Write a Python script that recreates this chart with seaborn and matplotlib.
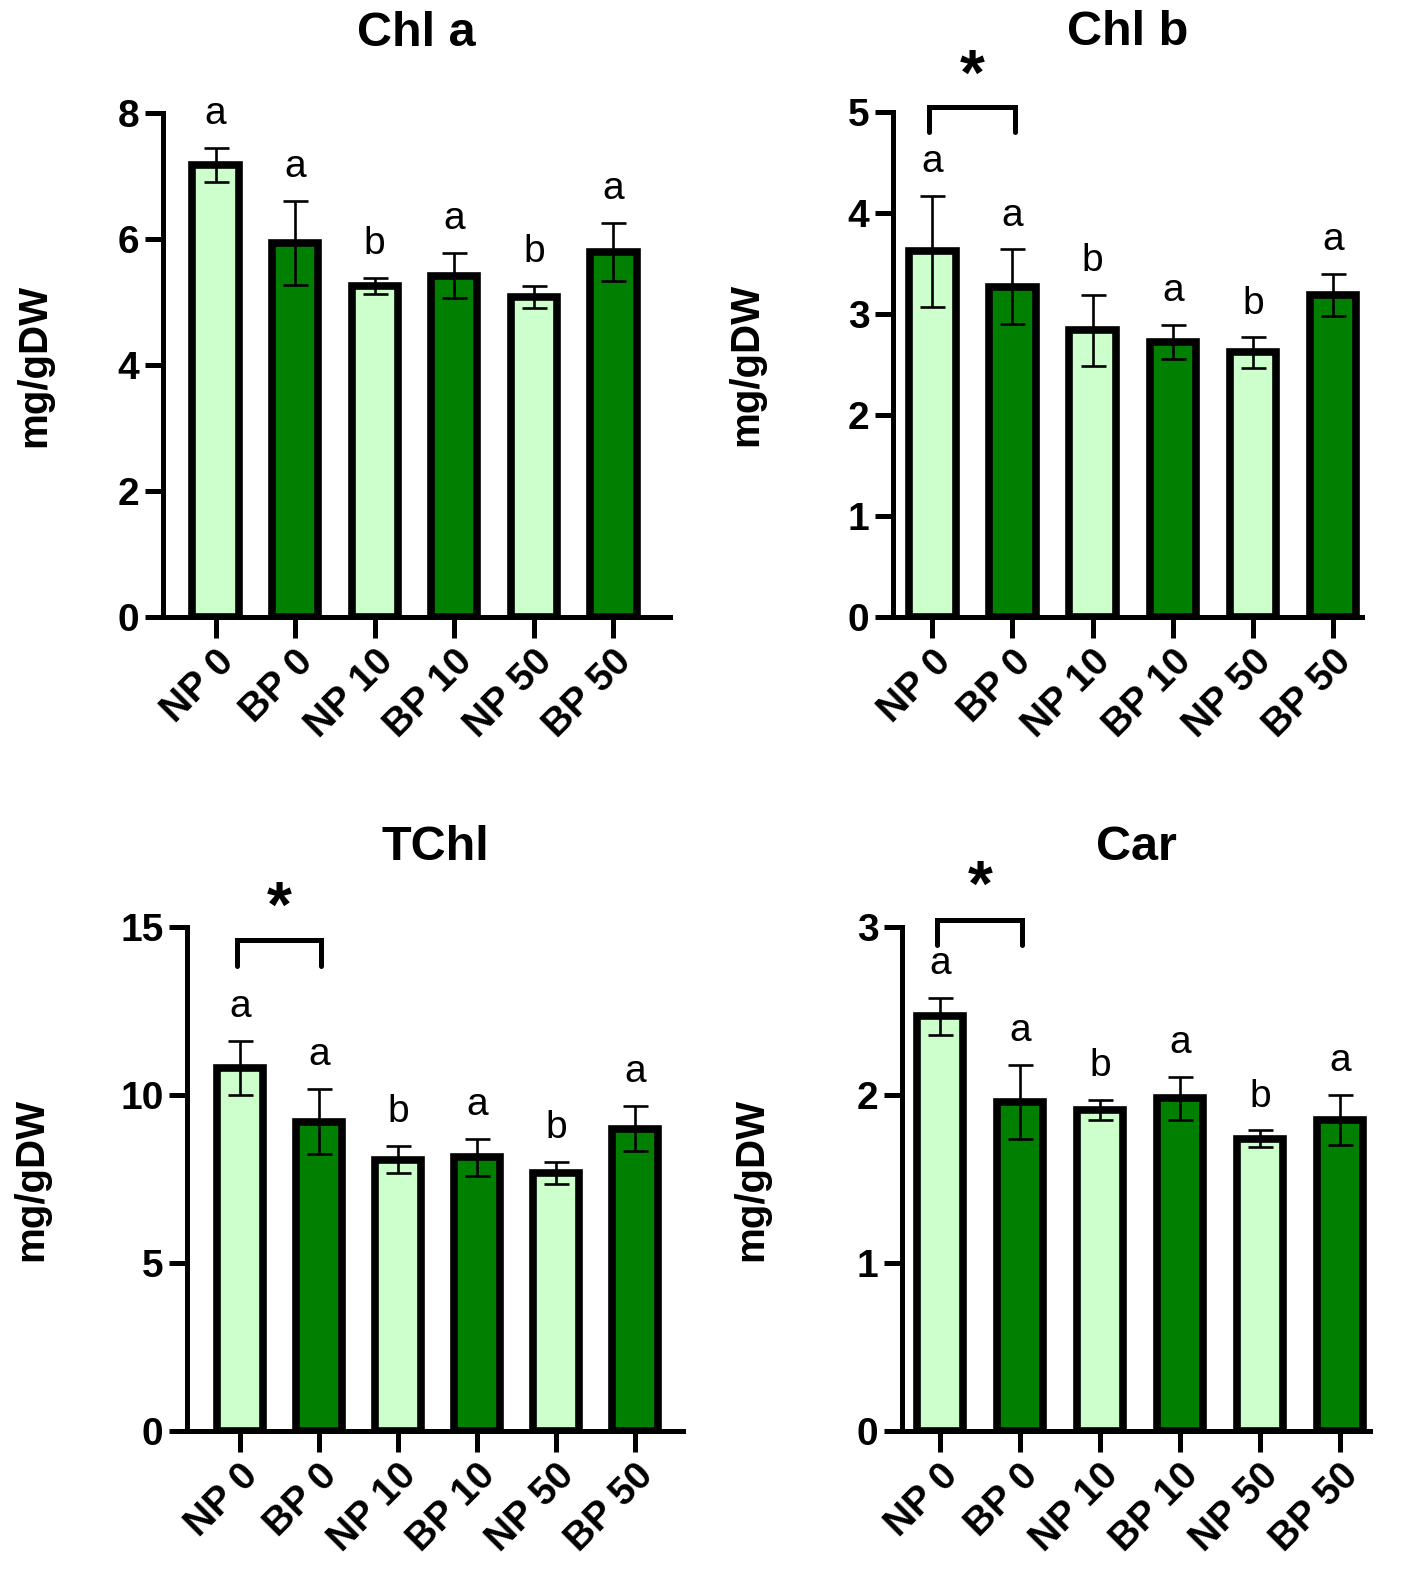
import pandas as pd
import matplotlib
matplotlib.use("Agg")
import matplotlib.pyplot as plt
import seaborn as sns

sns.set_style("ticks")
plt.rcParams["font.family"] = ["Liberation Sans", "DejaVu Sans"]
plt.rcParams.update({"text.color": "black", "axes.edgecolor": "black",
                     "axes.labelcolor": "black", "xtick.color": "black",
                     "ytick.color": "black"})

groups = ["NP 0", "BP 0", "NP 10", "BP 10", "NP 50", "BP 50"]
kinds = ["NP", "BP", "NP", "BP", "NP", "BP"]
colors = {"NP": "#CCFFCC", "BP": "#007F00"}

titles = ["Chl a", "Chl b", "TChl", "Car"]
chla_mean = [7.18, 5.94, 5.25, 5.42, 5.08, 5.80]
chla_err = [0.27, 0.67, 0.13, 0.36, 0.18, 0.46]
chlb_mean = [3.62, 3.27, 2.84, 2.72, 2.62, 3.19]
chlb_err = [0.55, 0.37, 0.35, 0.17, 0.15, 0.21]
tchl_mean = [10.81, 9.21, 8.08, 8.15, 7.69, 9.00]
tchl_err = [0.81, 0.98, 0.40, 0.55, 0.33, 0.67]
car_mean = [2.47, 1.96, 1.91, 1.98, 1.74, 1.85]
car_err = [0.11, 0.22, 0.06, 0.13, 0.05, 0.15]
letters = ["a", "a", "b", "a", "b", "a"]

ymax = [8, 5, 15, 3]
ystep = [2, 1, 5, 1]
# significance bracket: (top, leg bottom, star y) or None
brackets = [None, (5.05, 4.80, 5.34), (14.6, 13.85, 15.5), (3.04, 2.89, 3.23)]

means = [chla_mean, chlb_mean, tchl_mean, car_mean]
errs = [chla_err, chlb_err, tchl_err, car_err]

# layout in pixels: left, right, top, bottom of each axes, and xlim
W, H = 1418, 1583
boxes = [(163, 670, 113, 617), (893, 1362, 112, 617),
         (187, 683, 927, 1431), (902, 1370, 927, 1431)]
xlims = [(-0.66, 5.71), (-0.49, 5.36), (-0.67, 5.61), (-0.475, 5.375)]
ylab_right = [53, 765, 50, 770]

fig = plt.figure(figsize=(W / 100, H / 100), dpi=100)

for i in range(4):
    l, r, t, b = boxes[i]
    ax = fig.add_axes([l / W, 1 - b / H, (r - l) / W, (b - t) / H])
    df = pd.DataFrame({"group": groups, "kind": kinds, "value": means[i]})
    sns.barplot(data=df, x="group", y="value", hue="kind", palette=colors,
                order=groups, hue_order=["NP", "BP"], dodge=False, width=0.58,
                saturation=1, edgecolor="black", linewidth=5.5, errorbar=None,
                legend=False, ax=ax)
    ax.errorbar(range(6), means[i], yerr=errs[i], fmt="none", ecolor="black",
                elinewidth=1.9, capsize=9, capthick=1.9, zorder=5)

    for j in range(6):
        ax.annotate(letters[j], (j, means[i][j] + errs[i][j]), xytext=(0, 17),
                    textcoords="offset points", ha="center", va="baseline",
                    fontsize=28, annotation_clip=False)

    if brackets[i] is not None:
        top, leg, star = brackets[i]
        ax.plot([-0.04, -0.04, 1.03, 1.03], [leg, top, top, leg], color="black",
                lw=3.6, clip_on=False, solid_joinstyle="miter")
        ax.text(0.5, star, "*", ha="center", va="center", fontsize=46,
                fontweight="bold")

    ax.set_xlim(*xlims[i])
    ax.set_ylim(0, ymax[i])
    ax.set_yticks(range(0, ymax[i] + 1, ystep[i]))
    sns.despine(ax=ax)
    for s in ["left", "bottom"]:
        ax.spines[s].set_linewidth(3.6)
    ax.tick_params(axis="both", direction="out", width=3.6, labelsize=28, pad=4)
    ax.tick_params(axis="y", length=13)
    ax.tick_params(axis="x", length=15)
    for lab in ax.get_yticklabels():
        lab.set_fontweight("bold")
    ax.set_xticks(range(6))
    ax.set_xticklabels(groups, rotation=45, ha="right", va="top",
                       rotation_mode="anchor", fontweight="bold", fontsize=28)
    ax.set_xlabel("")
    ax.set_ylabel("mg/gDW", fontsize=29, fontweight="bold")
    ax.yaxis.set_label_coords((ylab_right[i] - l) / (r - l), 0.5)
    ax.set_title(titles[i], fontsize=35, fontweight="bold", pad=48)

fig.savefig("out.png", dpi=100)
